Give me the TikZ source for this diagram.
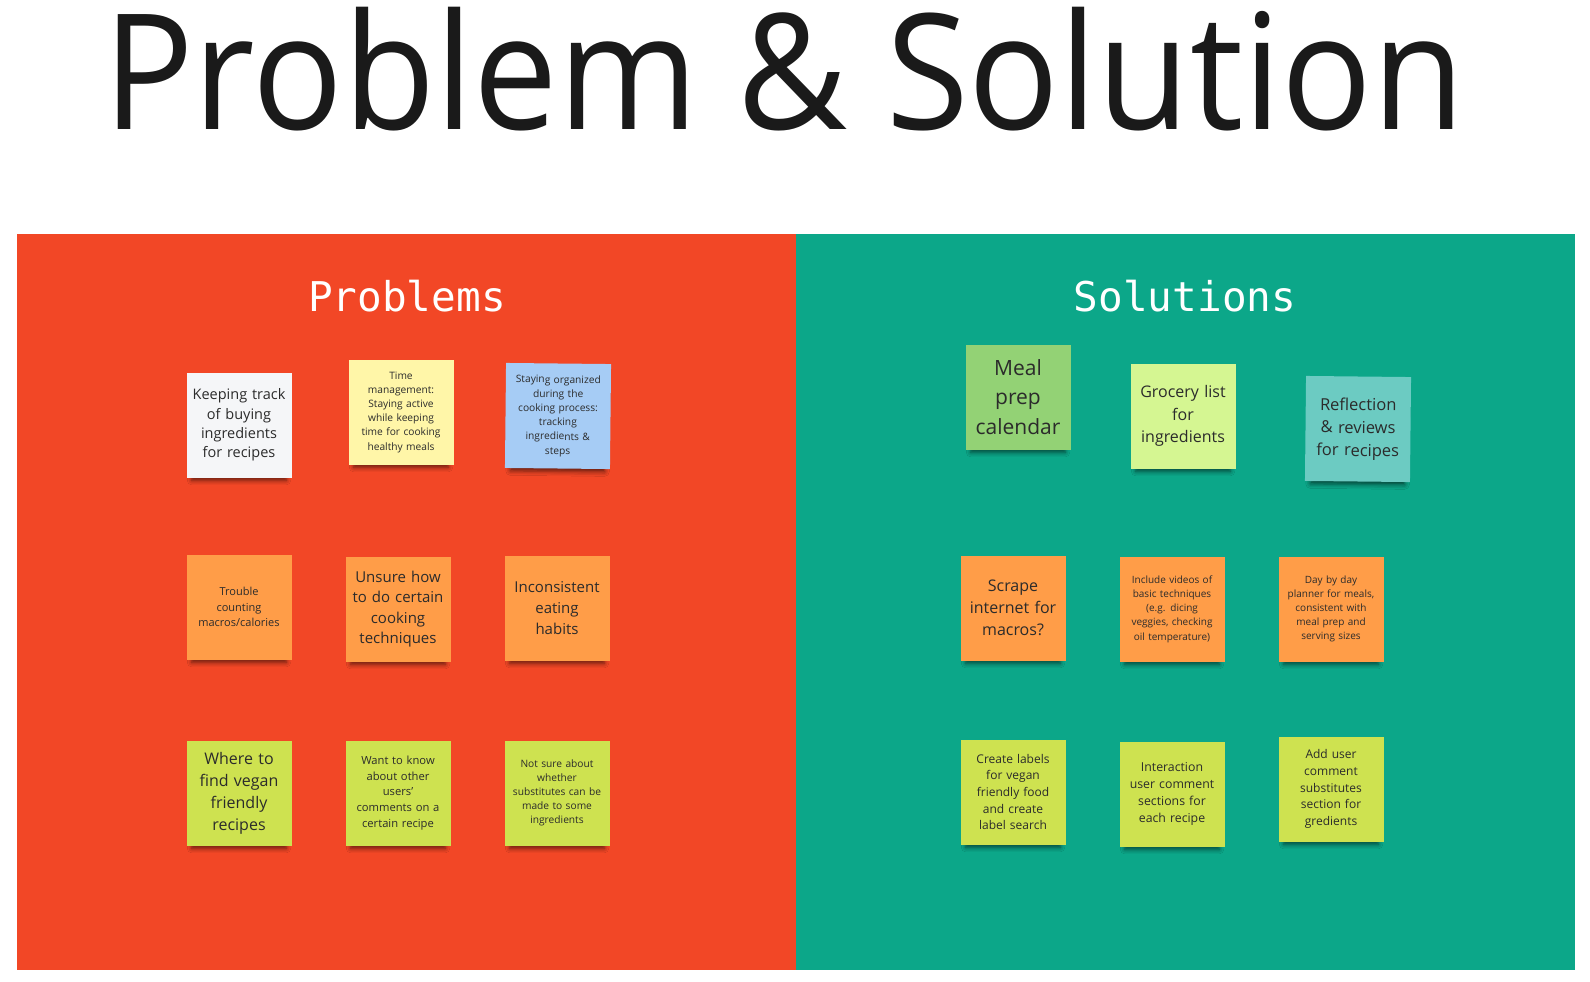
\documentclass[tikz,border=0pt]{standalone}
\usepackage{fontspec}
\setmainfont{Open Sans}
\newfontfamily\monofont{DejaVu Sans Mono}
\usetikzlibrary{shadows.blur}
\definecolor{pred}{HTML}{F24726}
\definecolor{sgreen}{HTML}{0CA789}
\definecolor{nwhite}{HTML}{F5F6F8}
\definecolor{nyellow}{HTML}{FFF6A8}
\definecolor{nblue}{HTML}{A6CCF5}
\definecolor{norange}{HTML}{FF9D48}
\definecolor{nlime}{HTML}{CEE250}
\definecolor{ngreen}{HTML}{93D275}
\definecolor{nlight}{HTML}{D5F692}
\definecolor{ncyan}{HTML}{6CCBC2}
\definecolor{ink}{HTML}{1A1A1A}
\definecolor{ntext}{HTML}{2B2B2B}
\tikzset{
  note/.style={minimum width=105pt, minimum height=105pt, inner sep=2pt, align=center,
    text=ntext, text width=96pt,
    blur shadow={shadow xshift=0pt, shadow yshift=-9pt, shadow scale=0.9, shadow blur radius=5pt, shadow opacity=60}},
  head/.style={text=white, font=\monofont\fontsize{41}{41}\selectfont, anchor=base}
}
\begin{document}
\begin{tikzpicture}[x=1pt,y=-1pt]
\fill[white] (0,0) rectangle (1590,982);
\useasboundingbox (0,0) rectangle (1590,982);
\node[text=ink, font=\fontsize{161}{161}\selectfont, anchor=base, inner sep=0pt] (title) at (784,129) {\scalebox{0.935}[1]{Problem \& Solution}};
\fill[pred] (17,234) rectangle (796,970);
\fill[sgreen] (796,234) rectangle (1575,970);
\node[head] (probs) at (407,311) {Problems};
\node[head] (sols) at (1185,311) {Solutions};
% Problems
\node[note, fill=nwhite, font=\fontsize{14.5}{19.3}\selectfont] (p1) at (239,425) {Keeping track\\of buying\\ingredients\\for recipes};
\node[note, fill=nyellow, font=\fontsize{10.2}{14.2}\selectfont] (p2) at (401,412) {Time\\management:\\Staying active\\while keeping\\time for cooking\\healthy meals};
\node[note, fill=nblue, rotate=-0.6, font=\fontsize{10.2}{14.2}\selectfont] (p3) at (558,416) {Staying organized\\during the\\cooking process:\\tracking\\ingredients \&\\steps};
\node[note, fill=norange, font=\fontsize{11}{15.7}\selectfont] (p4) at (239,607) {Trouble\\counting\\macros/calories};
\node[note, fill=norange, font=\fontsize{15}{20.6}\selectfont] (p5) at (398,609) {Unsure how\\to do certain\\cooking\\techniques};
\node[note, fill=norange, font=\fontsize{15}{20.8}\selectfont] (p6) at (557,608) {Inconsistent\\eating\\habits};
\node[note, fill=nlime, font=\fontsize{16}{22}\selectfont] (p7) at (239,793) {Where to\\find vegan\\friendly\\recipes};
\node[note, fill=nlime, font=\fontsize{11.2}{15.7}\selectfont] (p8) at (398,793) {Want to know\\about other\\users'\\comments on a\\certain recipe};
\node[note, fill=nlime, font=\fontsize{10.2}{14}\selectfont] (p9) at (557,793) {Not sure about\\whether\\substitutes can be\\made to some\\ingredients};
% Solutions
\node[note, fill=ngreen, font=\fontsize{21}{29.4}\selectfont] (s1) at (1018,397) {Meal\\prep\\calendar};
\node[note, fill=nlight, font=\fontsize{16}{22.3}\selectfont] (s2) at (1183,416) {Grocery list\\for\\ingredients};
\node[note, fill=ncyan, rotate=-0.6, font=\fontsize{16.5}{22.8}\selectfont] (s3) at (1358,429) {Reflection\\\& reviews\\for recipes};
\node[note, fill=norange, font=\fontsize{16}{21.8}\selectfont] (s4) at (1013,608) {Scrape\\internet for\\macros?};
\node[note, fill=norange, font=\fontsize{10}{14.2}\selectfont] (s5) at (1172,609) {Include videos of\\basic techniques\\(e.g. dicing\\veggies, checking\\oil temperature)};
\node[note, fill=norange, font=\fontsize{10}{14}\selectfont] (s6) at (1331,609) {Day by day\\planner for meals,\\consistent with\\meal prep and\\serving sizes};
\node[note, fill=nlime, font=\fontsize{12}{16.7}\selectfont] (s7) at (1013,792) {Create labels\\for vegan\\friendly food\\and create\\label search};
\node[note, fill=nlime, font=\fontsize{12.3}{17.2}\selectfont] (s8) at (1172,794) {Interaction\\user comment\\sections for\\each recipe};
\node[note, fill=nlime, font=\fontsize{12}{16.7}\selectfont] (s9) at (1331,789) {Add user\\comment\\substitutes\\section for\\gredients};
\end{tikzpicture}
\end{document}
